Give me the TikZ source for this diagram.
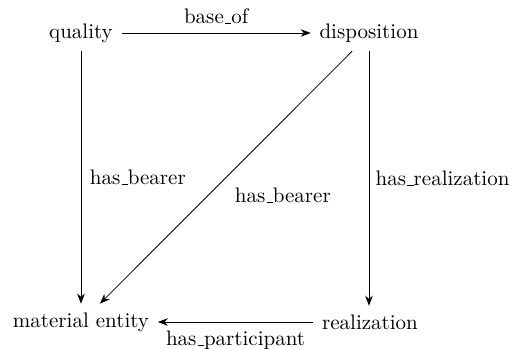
\documentclass[tikz,border=0pt]{standalone}
\usepackage{tikz}
\usetikzlibrary{arrows.meta,positioning}
\newcommand\usc{\leavevmode\kern.06em\vbox{\hrule width.3em}}

\begin{document}
\begin{tikzpicture}[x=0.476pt,y=-0.476pt,>=Stealth,every node/.style={inner sep=4pt},
  rel/.style={->,thin}]
\useasboundingbox (0,0) rectangle (516,349);
\node (quality) at (81,33) {quality};
\node (disp) at (369,33) {disposition};
\node (matent) at (81,322) {material entity};
\node (real) at (370,322) {realization};
\draw[rel] (quality) -- node[above] {base\usc of} (disp);
\draw[rel] (quality.south) -- node[right] {has\usc bearer} (quality.south |- matent.north);
\draw[rel] ([xshift=-8pt]disp.south) -- node[pos=0.5,below right,yshift=-1pt] {has\usc bearer} ([xshift=9pt]matent.north);
\draw[rel] (disp.south) -- node[right,inner sep=3pt] {has\usc realization} (disp.south |- real.north);
\draw[rel] (real) -- node[below] {has\usc participant} (matent);
\end{tikzpicture}
\end{document}
